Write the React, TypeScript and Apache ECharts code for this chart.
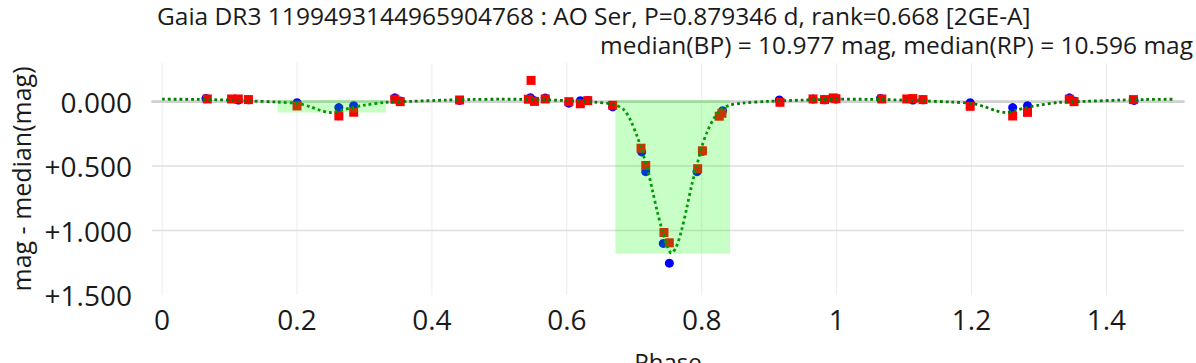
import React, { useEffect, useRef } from "react";
import * as echarts from "echarts";

const titleLine1 = "Gaia DR3 1199493144965904768 : AO Ser, P=0.879346 d, rank=0.668 [2GE-A]";
const titleLine2 = "median(BP) = 10.977 mag, median(RP) = 10.596 mag";
const xAxisTitle = "Phase";
const yAxisTitle = "mag - median(mag)";

const xTicks = [0, 0.2, 0.4, 0.6, 0.8, 1, 1.2, 1.4];
const yTicks = [0, 0.5, 1, 1.5];

const bpPhase = [0.065, 0.113, 0.128, 0.2, 0.262, 0.284, 0.345, 0.353, 0.441, 0.546, 0.551, 0.568, 0.603, 0.62, 0.631, 0.668, 0.711, 0.717, 0.743, 0.752, 0.793, 0.801, 0.831, 0.915, 0.965, 0.982, 0.995, 0.999, 1.065, 1.113, 1.128, 1.198, 1.261, 1.283, 1.345, 1.352, 1.441];
const bpMag = [-0.025, -0.012, -0.015, 0.008, 0.046, 0.031, -0.03, -0.005, -0.01, -0.031, -0.01, -0.028, 0.012, -0.008, -0.01, 0.04, 0.39, 0.543, 1.1, 1.253, 0.543, 0.385, 0.07, -0.013, -0.02, -0.015, -0.025, -0.02, -0.025, -0.012, -0.015, 0.008, 0.046, 0.031, -0.03, -0.005, -0.01];

const rpPhase = [0.067, 0.103, 0.113, 0.128, 0.2, 0.262, 0.284, 0.345, 0.353, 0.441, 0.543, 0.547, 0.552, 0.568, 0.603, 0.62, 0.631, 0.668, 0.71, 0.717, 0.744, 0.752, 0.794, 0.801, 0.826, 0.83, 0.916, 0.965, 0.982, 0.995, 0.999, 1.067, 1.104, 1.113, 1.128, 1.198, 1.261, 1.283, 1.345, 1.352, 1.44];
const rpMag = [-0.021, -0.021, -0.021, -0.016, 0.033, 0.111, 0.082, -0.019, 0.0, -0.013, -0.019, -0.165, -0.002, -0.021, 0.0, 0.016, -0.008, 0.028, 0.361, 0.495, 1.015, 1.095, 0.52, 0.381, 0.113, 0.09, 0.005, -0.021, -0.016, -0.029, -0.023, -0.021, -0.021, -0.024, -0.016, 0.036, 0.111, 0.083, -0.019, 0.0, -0.016];

const modelPhase = [0.0, 0.05, 0.1, 0.13, 0.17, 0.2, 0.22, 0.235, 0.25, 0.265, 0.28, 0.3, 0.33, 0.37, 0.42, 0.46, 0.5, 0.55, 0.6, 0.64, 0.67, 0.685, 0.695, 0.705, 0.712, 0.72, 0.727, 0.734, 0.741, 0.748, 0.755, 0.762, 0.77, 0.778, 0.785, 0.793, 0.8, 0.808, 0.818, 0.828, 0.842, 0.86, 0.9, 0.95, 1.0, 1.05, 1.1, 1.13, 1.17, 1.2, 1.22, 1.235, 1.25, 1.265, 1.28, 1.3, 1.33, 1.37, 1.42, 1.46, 1.5];
const modelMag = [-0.019, -0.018, -0.012, -0.006, 0.003, 0.014, 0.04, 0.068, 0.084, 0.068, 0.048, 0.027, 0.006, -0.003, -0.012, -0.017, -0.019, -0.017, -0.008, 0.003, 0.022, 0.065, 0.15, 0.28, 0.39, 0.53, 0.69, 0.85, 0.99, 1.11, 1.175, 1.13, 1.0, 0.82, 0.65, 0.49, 0.35, 0.235, 0.13, 0.064, 0.027, 0.012, -0.003, -0.012, -0.019, -0.018, -0.012, -0.006, 0.003, 0.014, 0.04, 0.068, 0.084, 0.068, 0.048, 0.027, 0.006, -0.003, -0.012, -0.017, -0.019];

// eclipse windows: [phaseStart, phaseEnd, magTop, magBottom]
const eclipseStart = [0.171, 0.672];
const eclipseEnd = [0.332, 0.842];
const eclipseTop = [-0.012, -0.012];
const eclipseBottom = [0.085, 1.18];

const X_MIN = -0.015;
const X_MAX = 1.515;
const Y_MIN = -0.3;
const Y_MAX = 1.5;

const FONT = '"Open Sans", "Noto Sans", sans-serif';

export default function App() {
  const ref = useRef<HTMLDivElement>(null);
  useEffect(() => {
    if (!ref.current) return;
    const chart = echarts.init(ref.current, undefined, { renderer: "svg" });
    const bpData = bpPhase.map((p, i) => [p, bpMag[i]]);
    const rpData = rpPhase.map((p, i) => [p, rpMag[i]]);
    const modelData = modelPhase.map((p, i) => [p, modelMag[i]]);
    const rectData = eclipseStart.map((s, i) => [s, eclipseTop[i], eclipseEnd[i], eclipseBottom[i]]);
    const vGrid = xTicks.map((v) => [v, 0]);
    const hGrid = yTicks.map((v) => [0, v]);

    chart.setOption({
      animation: false,
      textStyle: { fontFamily: FONT },
      graphic: [
        {
          type: "text",
          left: 157,
          top: 3,
          style: { text: titleLine1, font: `24.5px ${FONT}`, fill: "#1a1a1a" },
        },
        {
          type: "text",
          right: 3,
          top: 32,
          style: { text: titleLine2, font: `24.5px ${FONT}`, fill: "#1a1a1a" },
        },
      ],
      grid: { left: 152, right: 12, top: 63, bottom: 68, containLabel: false, outerBoundsMode: "none" },
      xAxis: {
        type: "value",
        min: X_MIN,
        max: X_MAX,
        name: xAxisTitle,
        nameLocation: "middle",
        nameGap: 54,
        nameTextStyle: { fontSize: 24, color: "#1a1a1a", fontFamily: FONT },
        axisLine: { show: true, lineStyle: { color: "#dcdcdc", width: 2.5 } },
        axisTick: { show: false },
        splitLine: { show: false },
        axisLabel: {
          customValues: xTicks,
          fontSize: 28,
          color: "#1a1a1a",
          fontFamily: FONT,
          margin: 10,
          formatter: (v: number) => String(Math.round(v * 10) / 10),
        },
      },
      yAxis: {
        type: "value",
        inverse: true,
        min: Y_MIN,
        max: Y_MAX,
        name: yAxisTitle,
        nameLocation: "middle",
        nameGap: 108,
        nameRotate: 90,
        nameTextStyle: { fontSize: 25, color: "#1a1a1a", fontFamily: FONT },
        axisLine: { show: false },
        axisTick: { show: false },
        splitLine: { show: false },
        axisLabel: {
          customValues: yTicks,
          fontSize: 28,
          color: "#1a1a1a",
          fontFamily: FONT,
          margin: 20,
          formatter: (v: number) => (Math.abs(v) < 1e-9 ? "0.000" : "+" + v.toFixed(3)),
        },
      },
      series: [
        {
          type: "custom",
          name: "vgrid",
          silent: true,
          z: 0,
          data: vGrid,
          renderItem: (params: any, api: any) => {
            const x = api.coord([api.value(0), 0])[0];
            const cs = params.coordSys;
            return {
              type: "line",
              shape: { x1: x, y1: cs.y, x2: x, y2: cs.y + cs.height },
              style: { stroke: "#ececec", lineWidth: 1 },
            };
          },
        },
        {
          type: "custom",
          name: "hgrid",
          silent: true,
          z: 1,
          data: hGrid,
          renderItem: (params: any, api: any) => {
            const v = api.value(1);
            const y = api.coord([0, v])[1];
            const cs = params.coordSys;
            const isZero = Math.abs(v) < 1e-9;
            const isBottom = Math.abs(v - Y_MAX) < 1e-9;
            if (isBottom) return null;
            return {
              type: "line",
              shape: { x1: cs.x, y1: y, x2: cs.x + cs.width, y2: y },
              style: { stroke: isZero ? "#cfcfcf" : "#dedede", lineWidth: isZero ? 2.5 : 1.5 },
            };
          },
        },
        {
          type: "scatter",
          name: "BP",
          z: 3,
          symbol: "circle",
          symbolSize: 9,
          itemStyle: { color: "#0000ff", opacity: 1 },
          data: bpData,
        },
        {
          type: "scatter",
          name: "RP",
          z: 4,
          symbol: "rect",
          symbolSize: 9,
          itemStyle: { color: "#ff0000", opacity: 1 },
          data: rpData,
        },
        {
          type: "line",
          name: "model",
          z: 5,
          smooth: 0.3,
          showSymbol: false,
          symbol: "none",
          lineStyle: { color: "#008000", width: 2.8, type: [2.8, 3], cap: "butt" },
          data: modelData,
        },
        {
          type: "custom",
          name: "eclipses",
          silent: true,
          z: 6,
          data: rectData,
          renderItem: (params: any, api: any) => {
            const p0 = api.coord([api.value(0), api.value(1)]);
            const p1 = api.coord([api.value(2), api.value(3)]);
            return {
              type: "rect",
              shape: {
                x: Math.min(p0[0], p1[0]),
                y: Math.min(p0[1], p1[1]),
                width: Math.abs(p1[0] - p0[0]),
                height: Math.abs(p1[1] - p0[1]),
              },
              style: { fill: "rgba(0,255,0,0.22)" },
            };
          },
        },
      ],
    });
    return () => chart.dispose();
  }, []);
  return (
    <div
      ref={ref}
      style={{ position: "fixed", left: 0, top: 0, width: 1196, height: 363, background: "#fff" }}
    />
  );
}
